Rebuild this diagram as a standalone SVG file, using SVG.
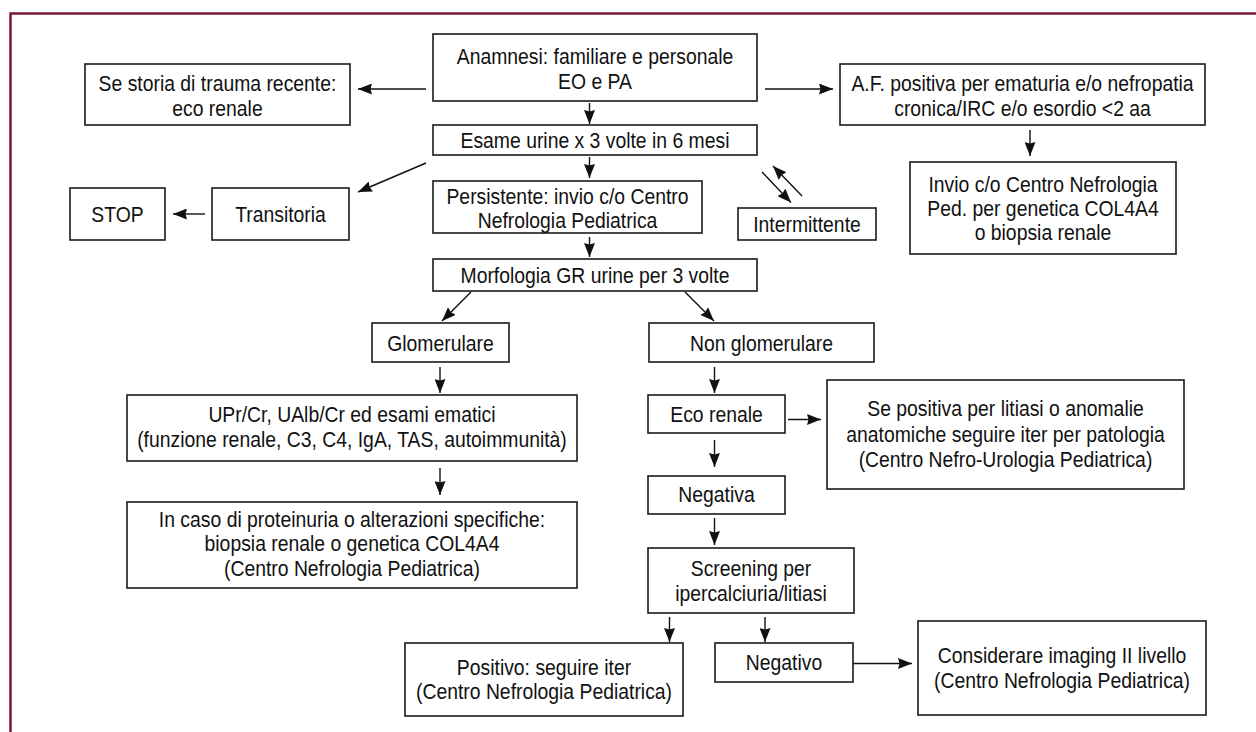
<svg xmlns="http://www.w3.org/2000/svg" width="1256" height="732" viewBox="0 0 1256 732">
<defs>
<style>
.box{fill:#fff;stroke:#1a1a1a;stroke-width:1.6}
.t{font-family:"Liberation Sans",Arial,sans-serif;font-size:22px;fill:#111;text-anchor:middle;transform-box:fill-box;transform-origin:center;transform:scaleX(0.88)}
.c{fill:none;stroke:#111;stroke-width:1.4;marker-end:url(#ah)}
</style>
<marker id="ah" viewBox="0 0 14 11" refX="14" refY="5.5" markerWidth="14" markerHeight="11" markerUnits="userSpaceOnUse" orient="auto">
<path d="M0,0 L14,5.5 L0,11 L1.5,5.5 z" fill="#111"/>
</marker>
</defs>
<rect width="1256" height="732" fill="#fff"/>
<path d="M10.5,732 L10.5,13.5 L1256,13.5" fill="none" stroke="#7a1a33" stroke-width="2.5"/>

<g id="connectors">
<path class="c" d="M426,89 L358,89"/>
<path class="c" d="M765,89 L833,89"/>
<path class="c" d="M589.5,103 L589.5,124"/>
<path class="c" d="M589.5,157 L589.5,178"/>
<path class="c" d="M426,163 L358,192"/>
<path class="c" d="M205,214 L173,214"/>
<path class="c" d="M589.5,237 L589.5,257"/>
<path class="c" d="M762,172 L791,202.5"/>
<path class="c" d="M802,196 L773,166"/>
<path class="c" d="M1030,130 L1030,156"/>
<path class="c" d="M471,292 L442,321"/>
<path class="c" d="M685,292 L714,321"/>
<path class="c" d="M440,367 L440,393"/>
<path class="c" d="M440,468 L440,495"/>
<path class="c" d="M714.5,367 L714.5,393"/>
<path class="c" d="M788,419.5 L821,419.5"/>
<path class="c" d="M714.5,440 L714.5,467"/>
<path class="c" d="M714.5,518 L714.5,545"/>
<path class="c" d="M669.5,617 L669.5,642"/>
<path class="c" d="M765,617 L765,642"/>
<path class="c" d="M853,663.5 L912,663.5"/>
</g>

<g id="anamnesi"><rect class="box" x="433" y="34" width="324" height="67"/>
<text class="t" x="595" y="64">Anamnesi: familiare e personale</text>
<text class="t" x="595" y="89">EO e PA</text></g>

<g id="sestoria"><rect class="box" x="85" y="64" width="265" height="61"/>
<text class="t" x="217.5" y="91">Se storia di trauma recente:</text>
<text class="t" x="217.5" y="116">eco renale</text></g>

<g id="af"><rect class="box" x="840" y="64" width="365" height="61"/>
<text class="t" x="1022.5" y="91">A.F. positiva per ematuria e/o nefropatia</text>
<text class="t" x="1022.5" y="116">cronica/IRC e/o esordio &lt;2 aa</text></g>

<g id="esame"><rect class="box" x="433" y="125" width="324" height="30"/>
<text class="t" x="595" y="148.5">Esame urine x 3 volte in 6 mesi</text></g>

<g id="stop"><rect class="box" x="70" y="188" width="95" height="52"/>
<text class="t" x="117.5" y="222">STOP</text></g>

<g id="transitoria"><rect class="box" x="212" y="188" width="137" height="52"/>
<text class="t" x="280.5" y="222">Transitoria</text></g>

<g id="persistente"><rect class="box" x="433" y="181" width="269" height="52"/>
<text class="t" x="567.5" y="204">Persistente: invio c/o Centro</text>
<text class="t" x="567.5" y="228">Nefrologia Pediatrica</text></g>

<g id="intermittente"><rect class="box" x="738" y="208" width="138" height="32"/>
<text class="t" x="807" y="232">Intermittente</text></g>

<g id="invio"><rect class="box" x="910" y="162" width="266" height="92"/>
<text class="t" x="1043" y="192.5">Invio c/o Centro Nefrologia</text>
<text class="t" x="1043" y="216.5">Ped. per genetica COL4A4</text>
<text class="t" x="1043" y="240.5">o biopsia renale</text></g>

<g id="morfologia"><rect class="box" x="433" y="259" width="324" height="32"/>
<text class="t" x="595" y="283.5">Morfologia GR urine per 3 volte</text></g>

<g id="glomerulare"><rect class="box" x="372" y="323" width="137" height="39"/>
<text class="t" x="440.5" y="351">Glomerulare</text></g>

<g id="nonglomerulare"><rect class="box" x="649" y="323" width="225" height="39"/>
<text class="t" x="761.5" y="351">Non glomerulare</text></g>

<g id="upr"><rect class="box" x="127" y="395" width="450" height="66"/>
<text class="t" x="352" y="422.5">UPr/Cr, UAlb/Cr ed esami ematici</text>
<text class="t" x="352" y="447">(funzione renale, C3, C4, IgA, TAS, autoimmunità)</text></g>

<g id="incaso"><rect class="box" x="127" y="502" width="450" height="86"/>
<text class="t" x="352" y="527">In caso di proteinuria o alterazioni specifiche:</text>
<text class="t" x="352" y="551.5">biopsia renale o genetica COL4A4</text>
<text class="t" x="352" y="576">(Centro Nefrologia Pediatrica)</text></g>

<g id="eco"><rect class="box" x="648" y="395" width="137" height="38"/>
<text class="t" x="716.5" y="422">Eco renale</text></g>

<g id="sepositiva"><rect class="box" x="827" y="380" width="357" height="109"/>
<text class="t" x="1005.5" y="416.5">Se positiva per litiasi o anomalie</text>
<text class="t" x="1005.5" y="442">anatomiche seguire iter per patologia</text>
<text class="t" x="1005.5" y="467.5">(Centro Nefro-Urologia Pediatrica)</text></g>

<g id="negativa"><rect class="box" x="648" y="476" width="137" height="38"/>
<text class="t" x="716.5" y="502.5">Negativa</text></g>

<g id="screening"><rect class="box" x="648" y="548" width="206" height="65"/>
<text class="t" x="751" y="576.5">Screening per</text>
<text class="t" x="751" y="601">ipercalciuria/litiasi</text></g>

<g id="positivo"><rect class="box" x="405" y="643" width="278" height="73"/>
<text class="t" x="544" y="675">Positivo: seguire iter</text>
<text class="t" x="544" y="699.5">(Centro Nefrologia Pediatrica)</text></g>

<g id="negativo"><rect class="box" x="715" y="643" width="138" height="39"/>
<text class="t" x="784" y="670.5">Negativo</text></g>

<g id="considerare"><rect class="box" x="918" y="621" width="288" height="94"/>
<text class="t" x="1062" y="663.5">Considerare imaging II livello</text>
<text class="t" x="1062" y="688">(Centro Nefrologia Pediatrica)</text></g>
</svg>
